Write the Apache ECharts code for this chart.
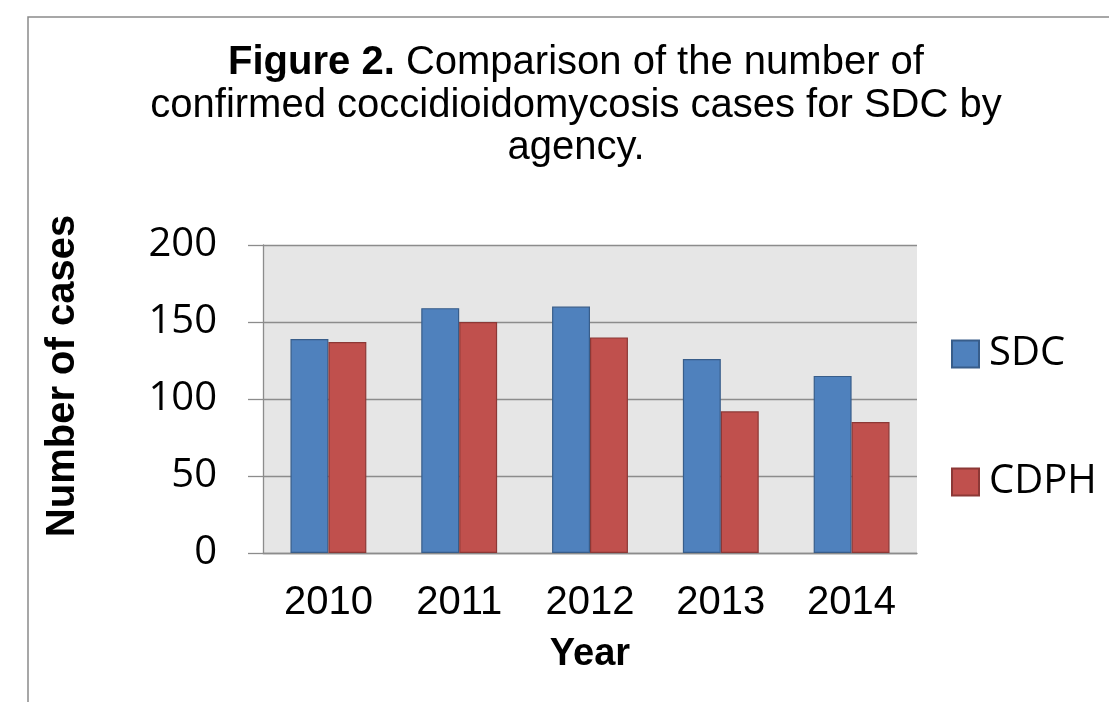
<!DOCTYPE html>
<html>
<head>
<meta charset="utf-8">
<style>html,body{margin:0;padding:0;background:#fff;}#c{width:1109px;height:702px;}</style>
<script src="https://cdn.jsdelivr.net/npm/echarts@6/dist/echarts.min.js"></script>
</head>
<body>
<div id="c"></div>
<script>
const years = ['2010', '2011', '2012', '2013', '2014'];
const sdcCases = [139, 159, 160, 126, 115];
const cdphCases = [137, 150, 140, 92, 85];
const yTicks = { min: 0, max: 200, interval: 50 };

const chart = echarts.init(document.getElementById('c'), null, { renderer: 'canvas' });
const gridCol = '#8c8c8c';
chart.setOption({
  animation: false,
  backgroundColor: '#ffffff',
  graphic: [
    { type: 'rect', shape: { x: 28, y: 17, width: 1200, height: 800 },
      style: { fill: 'none', stroke: '#8a8a8a', lineWidth: 1.5 }, z: 0 },
    { type: 'text', x: 576, y: 42, z: 10,
      style: {
        text: '{b|Figure 2.} Comparison of the number of\nconfirmed coccidioidomycosis cases for SDC by\nagency.',
        align: 'center', verticalAlign: 'top',
        fontFamily: '"Liberation Sans", Arial, sans-serif', fontSize: 40, lineHeight: 42.5, fill: '#000',
        rich: { b: { fontWeight: 'bold', fontFamily: '"Liberation Sans", Arial, sans-serif', fontSize: 40, lineHeight: 42.5, fill: '#000' } }
      } },
    { type: 'text', x: 63, y: 376, rotation: Math.PI / 2, z: 10,
      style: { text: 'Number of cases', align: 'center', verticalAlign: 'middle',
        fontFamily: '"Liberation Sans", Arial, sans-serif', fontWeight: 'bold', fontSize: 40, fill: '#000' } }
  ],
  legend: {
    orient: 'vertical', left: 946, top: 329,
    itemWidth: 27, itemHeight: 27, itemGap: 88,
    icon: 'rect',
    textStyle: { fontFamily: '"Open Sans", sans-serif', fontSize: 40, lineHeight: 40, color: '#000', padding: [0, 0, 0, 5] },
    data: ['SDC', 'CDPH']
  },
  grid: { left: 263, right: 192, top: 245, bottom: 149, show: true, backgroundColor: '#e6e6e6', borderWidth: 0, containLabel: false },
  xAxis: {
    type: 'category', data: years,
    name: 'Year', nameLocation: 'middle', nameGap: 83,
    nameTextStyle: { fontFamily: '"Liberation Sans", Arial, sans-serif', fontWeight: 'bold', fontSize: 38, color: '#000' },
    axisLine: { lineStyle: { color: gridCol, width: 1.3 } },
    axisTick: { show: false },
    axisLabel: { margin: 30, fontFamily: '"Liberation Sans", Arial, sans-serif', fontSize: 40, color: '#000' }
  },
  yAxis: {
    type: 'value', min: yTicks.min, max: yTicks.max, interval: yTicks.interval,
    axisLine: { show: true, lineStyle: { color: gridCol, width: 1.3 } },
    axisTick: { show: true, length: 15, lineStyle: { color: gridCol, width: 1.3 } },
    splitLine: { show: true, lineStyle: { color: gridCol, width: 1.3 } },
    axisLabel: { margin: 46, fontFamily: '"Open Sans", sans-serif', fontSize: 40, color: '#000' }
  },
  series: [
    { name: 'SDC', type: 'bar', data: sdcCases, barGap: '0%', barCategoryGap: '42%',
      itemStyle: { color: '#4f81bd', borderColor: '#385d8a', borderWidth: 1.2 } },
    { name: 'CDPH', type: 'bar', data: cdphCases, barGap: '0%', barCategoryGap: '42%',
      itemStyle: { color: '#c0504d', borderColor: '#8c3836', borderWidth: 1.2 } }
  ]
});
</script>
</body>
</html>
